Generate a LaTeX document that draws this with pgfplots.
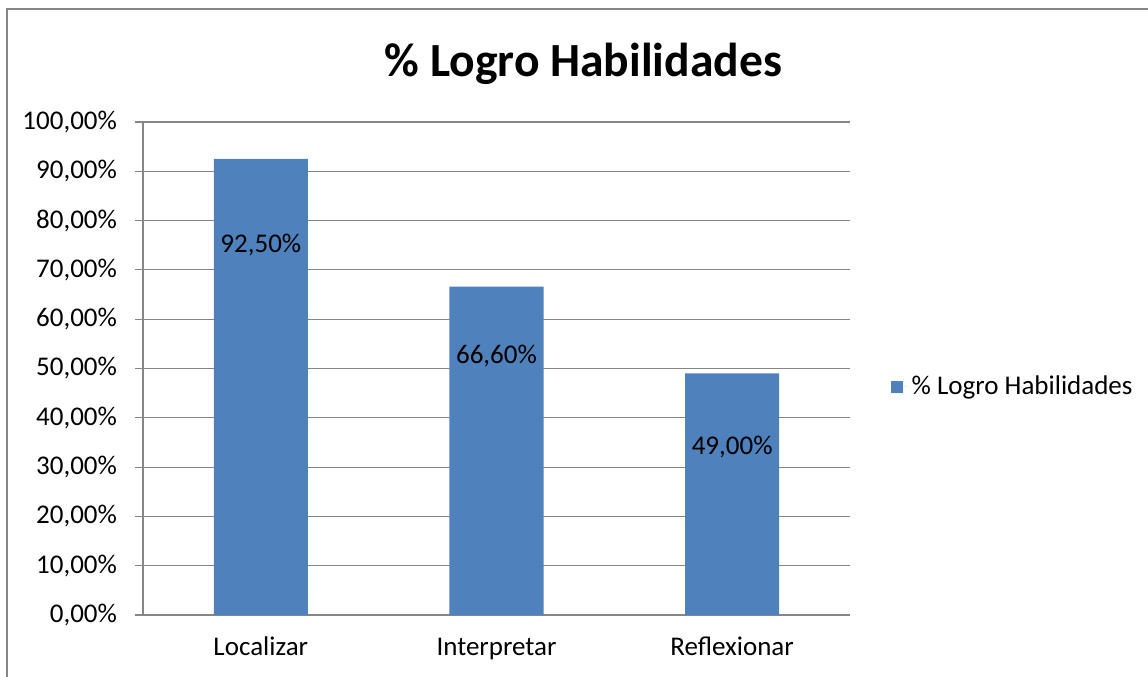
\documentclass[border=0pt]{standalone}
\usepackage{pgfplots}
\pgfplotsset{compat=1.18}
\usepackage{fontspec}
\setmainfont{Carlito}
\definecolor{barblue}{HTML}{4F81BD}
\definecolor{gridgray}{HTML}{868686}
\begin{document}
\begin{tikzpicture}[x=1pt,y=1pt]
\useasboundingbox (0,0) rectangle (574,338);
\draw[gridgray,line width=1pt] (3.25,-2) -- (3.25,333.25) -- (576,333.25);
\node[font=\fontsize{23.8}{28}\selectfont\bfseries] at (291.7,306) {\% Logro Habilidades};
\begin{axis}[
  at={(71.5pt,30.5pt)}, anchor=south west,
  scale only axis, width=353.5pt, height=246.5pt,
  xmin=-0.5, xmax=2.5, ymin=0, ymax=100,
  axis x line*=bottom, axis y line*=left,
  axis line style={gridgray, line width=0.6pt},
  tick style={gridgray, line width=0.6pt},
  tick align=outside,
  major tick length=4pt,
  ytick={0,10,...,100},
  yticklabels={0{,}00\%,10{,}00\%,20{,}00\%,30{,}00\%,40{,}00\%,50{,}00\%,60{,}00\%,70{,}00\%,80{,}00\%,90{,}00\%,100{,}00\%},
  xtick={0,1,2},
  xticklabels={Localizar,Interpretar,Reflexionar},
  x tick style={draw=none},
  minor xtick={-0.5,0.5,1.5,2.5},
  minor tick length=4pt,
  minor x tick style={gridgray, line width=0.6pt},
  ymajorgrids, grid style={gridgray, line width=0.6pt},
  ticklabel style={font=\fontsize{13.5}{16}\selectfont, text=black},
  yticklabel style={xshift=-5.5pt},
  xticklabel style={text height=1.6ex, text depth=0.3ex, yshift=-5pt},
  legend style={draw=none, at={(1.057,0.4625)}, anchor=west, font=\fontsize{13.5}{16}\selectfont, inner sep=0pt},
  legend image code/.code={\fill[barblue] (0pt,-3pt) rectangle (6pt,3pt); \path (6pt,0pt) -- (8.5pt,0pt);},
  clip=false,
]
\addplot[ybar, bar width=47pt, fill=barblue, draw=none, bar shift=0pt] coordinates {(0,92.5) (1,66.6) (2,49.0)};
\addlegendentry{\% Logro Habilidades}
\addplot[draw=none, mark=none, nodes near coords, point meta=explicit symbolic,
  every node near coord/.style={anchor=center, font=\fontsize{13.5}{16}\selectfont, text=black}, forget plot]
  table[meta=label] {
x y label
0 75.05 92,50\%
1 52.5 66,60\%
2 34.1 49,00\%
};
\end{axis}
\end{tikzpicture}
\end{document}
